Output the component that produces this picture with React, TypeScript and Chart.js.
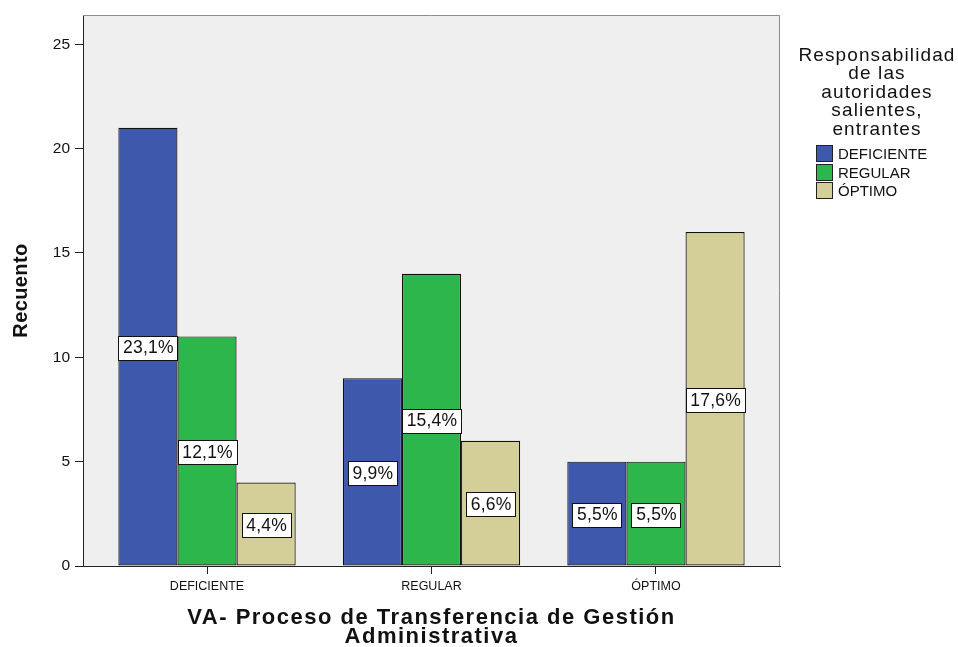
import React, { useEffect, useRef } from 'react';
import { Chart, registerables } from 'chart.js';

Chart.register(...registerables);

const categories = ['DEFICIENTE', 'REGULAR', 'ÓPTIMO'];
const seriesNames = ['DEFICIENTE', 'REGULAR', 'ÓPTIMO'];
const deficienteCounts = [21, 9, 5];
const regularCounts = [11, 14, 5];
const optimoCounts = [4, 6, 16];
const deficientePct = ['23,1%', '9,9%', '5,5%'];
const regularPct = ['12,1%', '15,4%', '5,5%'];
const optimoPct = ['4,4%', '6,6%', '17,6%'];
const seriesColors = ['#3E58AC', '#2DB64B', '#D4CE99'];
const yTickValues = [0, 5, 10, 15, 20, 25];
const yMax = 26.4;
const legendTitle = ['Responsabilidad', 'de las', 'autoridades', 'salientes,', 'entrantes'];
const xTitle = ['VA- Proceso de Transferencia de Gestión', 'Administrativa'];
const yTitle = 'Recuento';

const FONT = '"Liberation Sans", Arial, Helvetica, sans-serif';
const pctLabels = [deficientePct, regularPct, optimoPct];

const decor = {
  id: 'decor',
  beforeDraw(chart: any) {
    const { ctx, chartArea: a } = chart;
    ctx.save();
    ctx.fillStyle = '#EFEFEF';
    ctx.fillRect(a.left, a.top, a.right - a.left, a.bottom - a.top);
    ctx.restore();
  },
  afterDatasetsDraw(chart: any) {
    const { ctx, chartArea: a } = chart;
    ctx.save();
    // plot frame (top + right)
    ctx.strokeStyle = '#8c8c8c';
    ctx.lineWidth = 1;
    ctx.beginPath();
    ctx.moveTo(a.left, Math.round(a.top) + 0.5);
    ctx.lineTo(Math.round(a.right) - 0.5, Math.round(a.top) + 0.5);
    ctx.lineTo(Math.round(a.right) - 0.5, a.bottom);
    ctx.stroke();

    // percentage labels
    ctx.font = `17.5px ${FONT}`;
    (ctx as any).letterSpacing = '0.2px';
    ctx.textAlign = 'center';
    ctx.textBaseline = 'middle';
    chart.data.datasets.forEach((_ds: any, di: number) => {
      const meta = chart.getDatasetMeta(di);
      meta.data.forEach((bar: any, i: number) => {
        const txt = pctLabels[di][i];
        const { x, y, base } = bar.getProps(['x', 'y', 'base'], true);
        const mid = (y + base) / 2 + 1;
        const tw = ctx.measureText(txt).width;
        const bw = Math.round(tw + 8);
        const bh = 24;
        const bx = Math.round(x - bw / 2) + 0.5;
        const by = Math.round(mid - bh / 2) + 0.5;
        ctx.fillStyle = '#FFFFFF';
        ctx.fillRect(bx, by, bw, bh);
        ctx.strokeStyle = '#111111';
        ctx.lineWidth = 1;
        ctx.strokeRect(bx, by, bw, bh);
        ctx.fillStyle = '#111111';
        ctx.fillText(txt, x + 0.5, mid + 1);
      });
    });
    (ctx as any).letterSpacing = '0px';
    ctx.restore();
  },
  afterDraw(chart: any) {
    const { ctx, chartArea: a } = chart;
    ctx.save();
    ctx.fillStyle = '#111111';
    // x title
    ctx.font = `bold 22px ${FONT}`;
    (ctx as any).letterSpacing = '1.5px';
    ctx.textAlign = 'center';
    ctx.textBaseline = 'alphabetic';
    const cx = (a.left + a.right) / 2;
    ctx.fillText(xTitle[0], cx, 624);
    ctx.fillText(xTitle[1], cx, 643);
    // y title
    ctx.save();
    ctx.font = `bold 20px ${FONT}`;
    (ctx as any).letterSpacing = '0.4px';
    ctx.translate(27, (a.top + a.bottom) / 2);
    ctx.rotate(-Math.PI / 2);
    ctx.fillText(yTitle, 0, 0);
    ctx.restore();

    // legend title
    ctx.font = `19px ${FONT}`;
    (ctx as any).letterSpacing = '1.1px';
    ctx.textAlign = 'center';
    legendTitle.forEach((line, k) => {
      ctx.fillText(line, 877, 60.5 + k * 18.5);
    });
    // legend items
    (ctx as any).letterSpacing = '0px';
    ctx.font = `15px ${FONT}`;
    ctx.textAlign = 'left';
    chart.data.datasets.forEach((ds: any, di: number) => {
      const top = 145 + di * 18.5;
      const bx = 816.5;
      const by = Math.round(top) + 0.5;
      ctx.fillStyle = ds.backgroundColor;
      ctx.fillRect(bx, by, 16, 16);
      ctx.strokeStyle = '#222222';
      ctx.lineWidth = 1;
      ctx.strokeRect(bx, by, 16, 16);
      ctx.fillStyle = '#111111';
      ctx.fillText(ds.label, 838, top + 14);
    });
    ctx.restore();
  },
};

export default function App() {
  const ref = useRef<HTMLCanvasElement | null>(null);

  useEffect(() => {
    document.body.style.margin = '0';
    const canvas = ref.current;
    if (!canvas) return;
    const counts = [deficienteCounts, regularCounts, optimoCounts];
    const chart = new Chart(canvas, {
      type: 'bar',
      data: {
        labels: categories,
        datasets: seriesNames.map((name, i) => ({
          label: name,
          data: counts[i],
          backgroundColor: seriesColors[i],
          borderColor: '#111111',
          borderWidth: 1.2,
          borderSkipped: false,
          categoryPercentage: 0.79,
          barPercentage: 1,
        })),
      },
      options: {
        animation: false,
        responsive: false,
        maintainAspectRatio: false,
        devicePixelRatio: 1,
        layout: { padding: { top: 15, right: 178, bottom: 0, left: 0 } },
        plugins: {
          legend: { display: false },
          tooltip: { enabled: false },
          title: { display: false },
        },
        scales: {
          x: {
            type: 'category',
            offset: true,
            grid: {
              display: true,
              offset: false,
              drawOnChartArea: false,
              drawTicks: true,
              tickLength: 8,
              color: '#222222',
            },
            border: { display: true, color: '#222222', width: 1 },
            ticks: {
              font: { family: FONT, size: 12.5 },
              color: '#111111',
              padding: 5,
              maxRotation: 0,
            },
            afterBuildTicks: (scale: any) => {
              scale._startValue = -0.5525;
              scale._valueRange = 3.105;
            },
            afterFit: (scale: any) => {
              scale.height = 81;
            },
          },
          y: {
            type: 'linear',
            min: 0,
            max: yMax,
            grid: {
              display: true,
              drawOnChartArea: false,
              drawTicks: true,
              tickLength: 8,
              color: '#222222',
            },
            border: { display: true, color: '#222222', width: 1 },
            ticks: {
              stepSize: 5,
              font: { family: FONT, size: 15.5 },
              color: '#111111',
              padding: 5,
            },
            afterBuildTicks: (scale: any) => {
              scale.ticks = yTickValues.map((v) => ({ value: v }));
            },
            afterFit: (scale: any) => {
              scale.width = 83;
            },
          },
        },
      },
      plugins: [decor],
    });
    return () => chart.destroy();
  }, []);

  return (
    <div style={{ width: 958, height: 647 }}>
      <canvas ref={ref} width={958} height={647} style={{ display: 'block' }} />
    </div>
  );
}
